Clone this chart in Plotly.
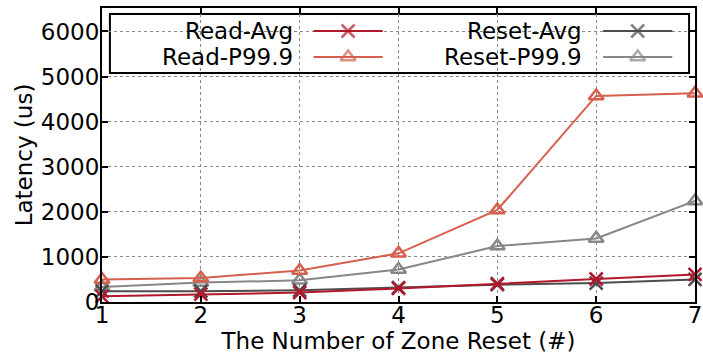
import plotly.graph_objects as go

# ---- data ----
zone_resets = [1, 2, 3, 4, 5, 6, 7]
read_avg = [125, 175, 210, 300, 410, 510, 610]
read_p999 = [500, 530, 700, 1080, 2040, 4570, 4630]
reset_avg = [240, 240, 260, 320, 385, 420, 500]
reset_p999 = [330, 430, 480, 720, 1240, 1410, 2240]
series_names = ["Read-Avg", "Read-P99.9", "Reset-Avg", "Reset-P99.9"]
y_ticks = [0, 1000, 2000, 3000, 4000, 5000, 6000]

colors = {"Read-Avg": "#b2182b", "Read-P99.9": "#d6604d",
          "Reset-Avg": "#4d4d4d", "Reset-P99.9": "#878787"}
symbols = {"Read-Avg": "x-thin-open", "Read-P99.9": "triangle-up-open",
           "Reset-Avg": "x-thin-open", "Reset-P99.9": "triangle-up-open"}
sizes = {"x-thin-open": 13, "triangle-up-open": 13}
values = {"Read-Avg": read_avg, "Read-P99.9": read_p999,
          "Reset-Avg": reset_avg, "Reset-P99.9": reset_p999}

FONT = "DejaVu Sans, sans-serif"
FS = 23

# plot area geometry in pixels (for placing the gnuplot-style key)
PL, PR, PT, PB = 102, 702, 8, 302
XR = [1, 7]
YR = [0, 6520]


def px_to_x(px):
    return XR[0] + (px - PL) / (PR - PL) * (XR[1] - XR[0])


def py_to_y(py):
    return YR[0] + (PB - py) / (PB - PT) * (YR[1] - YR[0])


def px_to_paper(px):
    return (px - PL) / (PR - PL)


def py_to_paper(py):
    return (PB - py) / (PB - PT)


fig = go.Figure()
for name in ["Reset-P99.9", "Reset-Avg", "Read-P99.9", "Read-Avg"]:
    sym = symbols[name]
    fig.add_trace(go.Scatter(
        x=zone_resets, y=values[name], name=name, mode="lines+markers",
        line=dict(color=colors[name], width=2),
        marker=dict(symbol=sym, size=sizes[sym], color=colors[name],
                    line=dict(color=colors[name], width=2.5)),
        cliponaxis=False, showlegend=False))

# ---- gnuplot-style key: text right-aligned, sample to its right ----
legend_pos = {"Read-Avg": (297, 31), "Read-P99.9": (297, 57),
              "Reset-Avg": (590, 31), "Reset-P99.9": (590, 57)}
fig.add_shape(type="rect", xref="paper", yref="paper",
              x0=px_to_paper(110), x1=px_to_paper(696),
              y0=py_to_paper(73), y1=py_to_paper(14),
              fillcolor="white", line=dict(color="black", width=2), layer="between")
for name in series_names:
    tx, ty = legend_pos[name]
    sym = symbols[name]
    fig.add_annotation(x=px_to_paper(tx), y=py_to_paper(ty), xref="paper", yref="paper",
                       text=name, showarrow=False, xanchor="right", yanchor="middle",
                       font=dict(family=FONT, size=FS, color="black"))
    fig.add_trace(go.Scatter(
        x=[px_to_x(tx + 19), px_to_x(tx + 54), px_to_x(tx + 89)],
        y=[py_to_y(ty)] * 3, mode="lines+markers",
        line=dict(color=colors[name], width=2),
        marker=dict(symbol=sym, size=[0, sizes[sym], 0], color=colors[name],
                    line=dict(color=colors[name], width=2.5)),
        showlegend=False, hoverinfo="skip", cliponaxis=False))

axis_common = dict(showline=True, linecolor="black", linewidth=2, mirror="ticks",
                   ticks="inside", ticklen=6, tickwidth=1.5, tickcolor="black",
                   showgrid=True, gridcolor="#888888", griddash="dot", gridwidth=1,
                   zeroline=False, ticklabeloverflow="allow",
                   tickfont=dict(family=FONT, size=FS, color="black"))

fig.update_layout(
    width=703, height=359,
    margin=dict(l=PL, r=703 - PR, t=PT, b=359 - PB),
    paper_bgcolor="white", plot_bgcolor="white",
    font=dict(family=FONT, size=FS, color="black"),
    xaxis=dict(range=XR, tickvals=zone_resets, ticklabelstandoff=-9, **axis_common,
               title=dict(text="The Number of Zone Reset (#)", standoff=0,
                          font=dict(family=FONT, size=FS))),
    yaxis=dict(range=YR, tickvals=y_ticks, ticklabelstandoff=-4, **axis_common,
               title=dict(text="Latency (us)", standoff=2,
                          font=dict(family=FONT, size=FS))),
)

fig.write_html("out.html")
